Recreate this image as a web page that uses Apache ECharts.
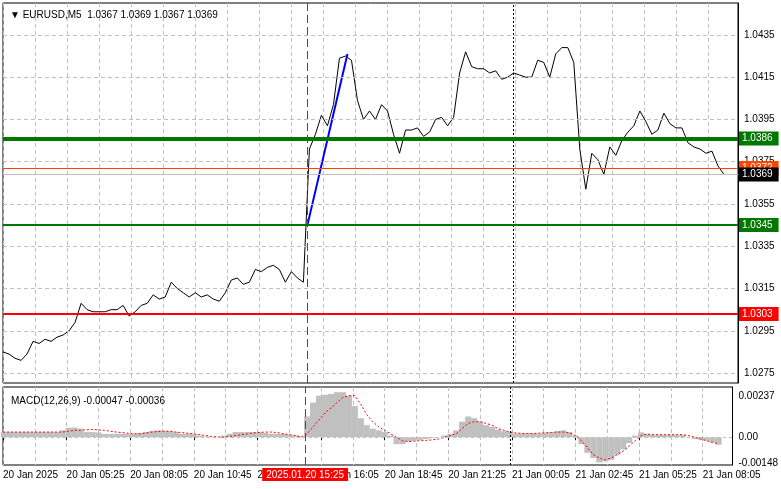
<!DOCTYPE html>
<html><head><meta charset="utf-8">
<script src="https://cdn.jsdelivr.net/npm/echarts@6/dist/echarts.min.js"></script>
<style>html,body{margin:0;padding:0;background:#fff}#c{width:781px;height:489px}</style>
</head><body><div id="c"></div>
<script>
// 15-minute samples (every 3rd M5 bar) starting 20 Jan 2025 02:45
const price = [1.0285,1.0284,1.0282,1.0281,1.0284,1.0290,1.0289,1.0291,1.0290,1.0292,
1.0293,1.0295,1.0299,1.0308,1.0305,1.0304,1.0304,1.0304,1.0305,1.0305,
1.0307,1.0302,1.0304,1.0307,1.0308,1.0312,1.0310,1.0311,1.0318,1.0315,
1.0313,1.0311,1.0313,1.0311,1.0312,1.0310,1.0309,1.0313,1.0319,1.0320,
1.0317,1.0318,1.0324,1.0323,1.0325,1.0326,1.0324,1.0318,1.0323,1.0320,
1.0318,1.0381,1.0388,1.0397,1.0392,1.0402,1.0424,1.0425,1.0423,1.0404,
1.0395,1.0399,1.0395,1.0402,1.0399,1.0388,1.0379,1.0390,1.0390,1.0391,
1.0387,1.0389,1.0395,1.0396,1.0392,1.0396,1.0417,1.0427,1.0420,1.0419,
1.0419,1.0417,1.0418,1.0414,1.0415,1.0417,1.0416,1.0415,1.0415,1.0423,
1.0422,1.0415,1.0426,1.0429,1.0429,1.0422,1.0381,1.0362,1.0379,1.0376,
1.0369,1.0382,1.0378,1.0385,1.0389,1.0392,1.0399,1.0394,1.0388,1.0390,
1.0398,1.0393,1.0391,1.0391,1.0384,1.0382,1.0381,1.0379,1.0380,1.0373,1.0369];
const macdHist = [0.0003,0.0003,0.0003,0.0003,0.0003,0.0003,0.0003,0.0003,0.0003,0.0003,
0.0004,0.00055,0.00056,0.0005,0.0003,0.0003,0.00028,0.0002,0.0002,0.0002,
0.0002,0.0002,0.0002,0.00025,0.0003,0.00037,0.0004,0.00037,0.00035,0.0003,
0.0002,0.0002,0.00018,0.0001,0.00005,0.00002,0.00002,0.0001,0.0002,0.0003,
0.0003,0.0003,0.0003,0.0003,0.00025,0.0002,0.0002,0.0002,0.00015,0.0001,
0.00004,0.0012,0.002,0.0024,0.00245,0.0025,0.0026,0.0026,0.0024,0.0018,
0.0011,0.0007,0.0005,0.0004,0.0003,0.0001,-0.0004,-0.0004,-0.00025,-0.0002,
-0.00015,-0.0001,-0.00005,0,0.0001,0.0002,0.0004,0.0009,0.0012,0.0011,
0.0009,0.0007,0.0006,0.00045,0.00035,0.0003,0.00022,0.00022,0.00022,0.00022,
0.00022,0.00025,0.0003,0.00035,0.0004,0.0003,0.0001,-0.0004,-0.0009,-0.0012,
-0.00145,-0.0014,-0.0013,-0.001,-0.0007,-0.00033,0.0001,0.00028,0.0002,0.00013,
0.00013,0.00013,0.00013,0.00013,0.00013,0,-0.0001,-0.00015,-0.0002,-0.0003,-0.00043];
const macdSignal = [0.0003,0.0003,0.0003,0.0003,0.0003,0.0003,0.0003,0.0003,0.0003,0.0003,
0.0003,0.00035,0.0004,0.0004,0.00043,0.00045,0.00042,0.0004,0.00035,0.0003,
0.00027,0.00023,0.0002,0.0002,0.00025,0.0003,0.00033,0.00035,0.00035,0.0003,
0.00027,0.00023,0.0002,0.00015,0.0001,0.00005,0.00002,0,0.00005,0.0001,
0.00015,0.0002,0.00025,0.00028,0.0003,0.0003,0.00027,0.0002,0.00015,0.0001,
0.00002,0.0002,0.0006,0.001,0.0014,0.0017,0.002,0.0023,0.0024,0.0024,
0.0019,0.0013,0.0009,0.0006,0.0004,0.0002,0,-0.0002,-0.00025,-0.00022,
-0.0002,-0.00018,-0.00015,-0.0001,0,0.0001,0.0002,0.0005,0.0008,0.0009,
0.0009,0.0008,0.0007,0.0005,0.0004,0.0003,0.00025,0.00022,0.00022,0.00022,
0.00024,0.00026,0.00028,0.0003,0.0003,0.00025,0.0001,-0.0002,-0.0006,-0.001,
-0.0012,-0.0013,-0.0012,-0.001,-0.0008,-0.0005,-0.0002,0.0001,0.00018,0.00015,
0.00015,0.00015,0.00015,0.00015,0.00015,0.0001,0,-0.0001,-0.0002,-0.0003,-0.00036];
const priceTicks = [1.0435,1.0415,1.0395,1.0375,1.0355,1.0335,1.0315,1.0295,1.0275];
const macdTicks = [0.00237,0,-0.00148];
const levels = [
  {v:1.0386, c:'#007800', w:4},
  {v:1.0345, c:'#007800', w:2},
  {v:1.0303, c:'#ff0000', w:2},
  {v:1.0372, c:'#ff4500', w:1},
  {v:1.0369, c:'#c0c0c0', w:1, box:'#000000'}
];
const trendFrom = {bar:152, v:1.0345}, trendTo = {bar:172, v:1.0426};
const selectedBar = 152, dayBar = 255;
const nBars = 368, step = 3;
const startMs = Date.UTC(2025,0,20,2,45);
const months=['Jan','Feb','Mar','Apr','May','Jun','Jul','Aug','Sep','Oct','Nov','Dec'];
const pad=n=>String(n).padStart(2,'0');
const cats=[]; for(let i=0;i<nBars;i++) cats.push(String(i));
function lbl(i){const d=new Date(startMs+i*300000);
  if(+i===0) return d.getUTCDate()+' '+months[d.getUTCMonth()]+' '+d.getUTCFullYear();
  return d.getUTCDate()+' '+months[d.getUTCMonth()]+' '+pad(d.getUTCHours())+':'+pad(d.getUTCMinutes());}
function sel(i){const d=new Date(startMs+i*300000);
  return d.getUTCFullYear()+'.'+pad(d.getUTCMonth()+1)+'.'+pad(d.getUTCDate())+' '+pad(d.getUTCHours())+':'+pad(d.getUTCMinutes());}
function spread(a){const r=new Array(nBars).fill(null);a.forEach((v,i)=>{if(i*step<nBars)r[i*step]=v;});return r;}
const F='Liberation Sans';
const trend=new Array(nBars).fill(null); trend[trendFrom.bar]=trendFrom.v; trend[trendTo.bar]=trendTo.v;
const chart=echarts.init(document.getElementById('c'));
chart.setOption({
  animation:false,
  textStyle:{fontFamily:F},
  title:[
    {text:'▼ EURUSD,M5  1.0367 1.0369 1.0367 1.0369',left:5,top:5,textStyle:{fontSize:10,fontWeight:'normal',color:'#000',fontFamily:F}},
    {text:'MACD(12,26,9) -0.00047 -0.00036',left:6,top:391,textStyle:{fontSize:10,fontWeight:'normal',color:'#000',fontFamily:F}}
  ],
  grid:[
    {left:3,right:43,top:3,height:380,show:true,borderColor:'#000',borderWidth:1},
    {left:3,right:43,top:387,height:78,show:true,borderColor:'#000',borderWidth:1}
  ],
  xAxis:[
    {type:'category',gridIndex:0,data:cats,boundaryGap:false,axisLine:{show:false},axisTick:{show:false},axisLabel:{show:false},
     splitLine:{show:true,interval:15,lineStyle:{color:'#c0c0c0',type:[4,3]}}},
    {type:'category',gridIndex:1,data:cats,boundaryGap:false,axisLine:{show:false},
     axisTick:{show:true,interval:31,length:3,lineStyle:{color:'#000'}},
     axisLabel:{interval:31,formatter:(v)=>lbl(+v),fontSize:10,color:'#000',align:'left',margin:5,fontFamily:F},
     splitLine:{show:true,interval:15,lineStyle:{color:'#c0c0c0',type:[4,3]}}}
  ],
  yAxis:[
    {type:'value',gridIndex:0,position:'right',min:1.02703,max:1.04501,
     axisLine:{show:true,lineStyle:{color:'#000'}},axisTick:{show:false},splitLine:{show:false},
     axisLabel:{customValues:priceTicks,formatter:v=>v.toFixed(4),fontSize:10,color:'#000',margin:6,fontFamily:F}},
    {type:'value',gridIndex:1,position:'right',min:-0.0016,max:0.0029,
     axisLine:{show:true,lineStyle:{color:'#000'}},axisTick:{show:false},splitLine:{show:false},
     axisLabel:{customValues:macdTicks,formatter:v=>v===0?'0.00':String(v),fontSize:10,color:'#000',margin:6,fontFamily:F}}
  ],
  series:[
    {type:'line',xAxisIndex:0,yAxisIndex:0,data:spread(price),connectNulls:true,showSymbol:false,
     lineStyle:{color:'#000',width:1},silent:true,z:3,
     markLine:{silent:true,symbol:'none',precision:5,
       data:[
        ...priceTicks.map(t=>({yAxis:t,lineStyle:{color:'#c0c0c0',type:[4,3],width:1},label:{show:false}})),
        {xAxis:String(dayBar),lineStyle:{color:'#000',type:[2,2],width:1},label:{show:false}},
        {xAxis:String(selectedBar),lineStyle:{color:'#ff0000',type:[8,4],width:1},label:{show:false}},
        ...levels.map(l=>({yAxis:l.v,lineStyle:{color:l.c,width:l.w,type:'solid'},
          label:{show:true,position:'end',formatter:l.v.toFixed(4),distance:1,color:'#fff',fontSize:10,
            backgroundColor:l.box||l.c,padding:[2,6,2,3],fontFamily:F}}))
       ]}},
    {type:'line',xAxisIndex:0,yAxisIndex:0,data:trend,connectNulls:true,showSymbol:false,
     lineStyle:{color:'#0000ff',width:2},silent:true,z:4},
    {type:'bar',xAxisIndex:1,yAxisIndex:1,data:spread(macdHist),barWidth:6.1,itemStyle:{color:'#c0c0c0'},silent:true,
     markLine:{silent:true,symbol:'none',precision:6,data:[
       {yAxis:0,lineStyle:{color:'#c0c0c0',type:[3,3],width:1},label:{show:false}},
       {xAxis:String(dayBar),lineStyle:{color:'#000',type:[2,2],width:1},label:{show:false}},
       {xAxis:String(selectedBar),lineStyle:{color:'#ff0000',type:[8,4],width:1},
        label:{show:true,position:'start',formatter:sel(selectedBar),color:'#fff',backgroundColor:'#ff0000',
          padding:[2,4,1,4],fontSize:10,distance:3,fontFamily:F}}
     ]}},
    {type:'line',xAxisIndex:1,yAxisIndex:1,data:spread(macdSignal),connectNulls:true,showSymbol:false,
     lineStyle:{color:'#ff0000',width:1,type:[2,2]},silent:true,z:4}
  ]
});
</script></body></html>
